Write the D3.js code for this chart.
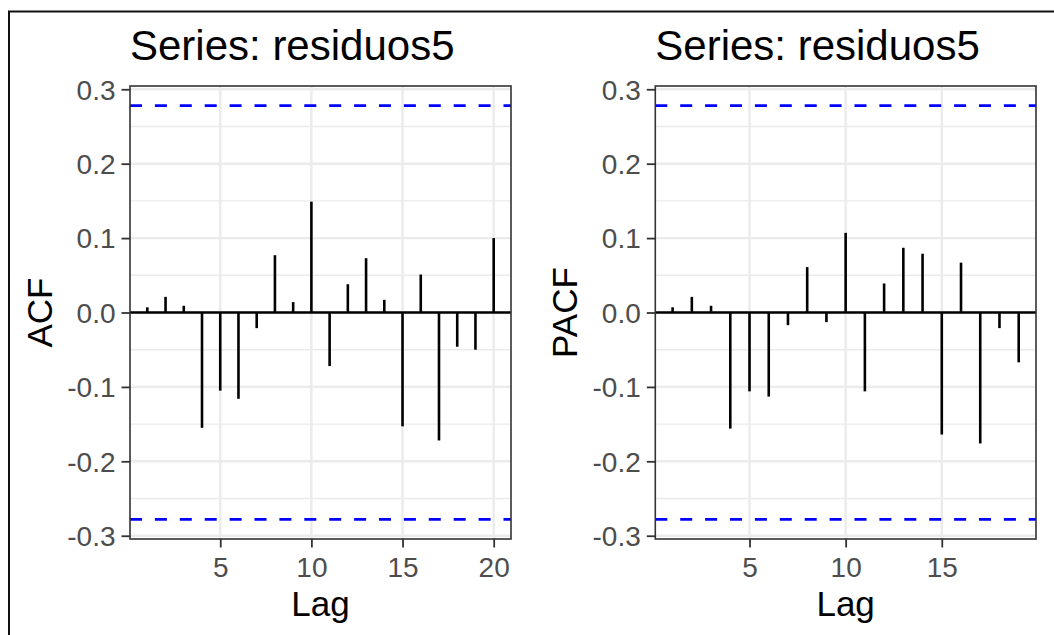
<!DOCTYPE html>
<html>
<head>
<meta charset="utf-8">
<script src="https://cdn.jsdelivr.net/npm/d3@7"></script>
<style>
  html, body { margin: 0; padding: 0; background: #ffffff; }
  svg { display: block; font-family: "Liberation Sans", Arial, Helvetica, sans-serif; }
</style>
</head>
<body>
<svg id="chart" width="1054" height="635"></svg>
<script>
// ---- Data ----
const titleText = "Series: residuos5";
const xLabel = "Lag";
const acfLabel = "ACF";
const pacfLabel = "PACF";

const acfLags = [1, 2, 3, 4, 5, 6, 7, 8, 9, 10, 11, 12, 13, 14, 15, 16, 17, 18, 19, 20];
const acfValues = [0.007, 0.021, 0.009, -0.155, -0.105, -0.116, -0.021, 0.077, 0.014, 0.149,
                   -0.072, 0.038, 0.073, 0.017, -0.153, 0.051, -0.172, -0.046, -0.050, 0.100];

const pacfLags = [1, 2, 3, 4, 5, 6, 7, 8, 9, 10, 11, 12, 13, 14, 15, 16, 17, 18, 19];
const pacfValues = [0.007, 0.021, 0.009, -0.156, -0.106, -0.113, -0.017, 0.061, -0.013, 0.107,
                    -0.106, 0.039, 0.087, 0.079, -0.164, 0.067, -0.176, -0.021, -0.067];

const ciLevel = 0.278;   // approx. 1.96/sqrt(n)

const yTicks = [-0.3, -0.2, -0.1, 0.0, 0.1, 0.2, 0.3];
const yTickLabels = ["-0.3", "-0.2", "-0.1", "0.0", "0.1", "0.2", "0.3"];
const yMinorTicks = [-0.25, -0.15, -0.05, 0.05, 0.15, 0.25];
const acfXTicks = [5, 10, 15, 20];
const pacfXTicks = [5, 10, 15];

// ---- Layout ----
const svg = d3.select("#chart");
svg.append("rect").attr("x", 0).attr("y", 0).attr("width", 1054).attr("height", 635).attr("fill", "#fff");

// outer frame (only left & top visible in the crop)
svg.append("line").attr("x1", 9).attr("x2", 9).attr("y1", 11).attr("y2", 635)
  .attr("stroke", "#111").attr("stroke-width", 2);
svg.append("line").attr("x1", 8).attr("x2", 1054).attr("y1", 11.5).attr("y2", 11.5)
  .attr("stroke", "#111").attr("stroke-width", 1.8);

const panelTop = 86, panelBottom = 539;

function drawPanel(opts) {
  const { left, right, lags, values, xTicks, ylab } = opts;
  const lagExt = d3.extent(lags);
  const pad = (lagExt[1] - lagExt[0]) * 0.05;
  const x = d3.scaleLinear().domain([lagExt[0] - pad, lagExt[1] + pad]).range([left, right]);
  const y = d3.scaleLinear().domain([-0.3044, 0.3044]).range([panelBottom, panelTop]);

  const g = svg.append("g");

  g.append("rect").attr("x", left).attr("y", panelTop)
    .attr("width", right - left).attr("height", panelBottom - panelTop).attr("fill", "#fff");

  // minor gridlines
  g.selectAll(".ymin").data(yMinorTicks).enter().append("line")
    .attr("x1", left).attr("x2", right)
    .attr("y1", d => y(d)).attr("y2", d => y(d))
    .attr("stroke", "#ebebeb").attr("stroke-width", 1.4);
  // major gridlines
  g.selectAll(".ymaj").data(yTicks).enter().append("line")
    .attr("x1", left).attr("x2", right)
    .attr("y1", d => y(d)).attr("y2", d => y(d))
    .attr("stroke", "#ebebeb").attr("stroke-width", 2.4);
  g.selectAll(".xmaj").data(xTicks).enter().append("line")
    .attr("x1", d => x(d)).attr("x2", d => x(d))
    .attr("y1", panelTop).attr("y2", panelBottom)
    .attr("stroke", "#ebebeb").attr("stroke-width", 2.4);

  // zero line
  g.append("line").attr("x1", left).attr("x2", right)
    .attr("y1", y(0)).attr("y2", y(0))
    .attr("stroke", "#000").attr("stroke-width", 2.6);

  // spikes
  g.selectAll(".spike").data(lags.map((l, i) => ({ lag: l, v: values[i] }))).enter().append("line")
    .attr("x1", d => x(d.lag)).attr("x2", d => x(d.lag))
    .attr("y1", y(0)).attr("y2", d => y(d.v))
    .attr("stroke", "#000").attr("stroke-width", 2.6);

  // confidence bands
  [ciLevel, -ciLevel].forEach(c => {
    g.append("line").attr("x1", left).attr("x2", right)
      .attr("y1", y(c)).attr("y2", y(c))
      .attr("stroke", "#0000ff").attr("stroke-width", 2.6)
      .attr("stroke-dasharray", "12,12.9");
  });

  // panel border
  g.append("rect").attr("x", left).attr("y", panelTop)
    .attr("width", right - left).attr("height", panelBottom - panelTop)
    .attr("fill", "none").attr("stroke", "#333333").attr("stroke-width", 1.6);

  // y axis
  const yAxis = d3.axisLeft(y).tickValues(yTicks).tickSize(8.5).tickPadding(6)
    .tickFormat((d, i) => yTickLabels[i]);
  const ya = g.append("g").attr("transform", `translate(${left},0)`).call(yAxis);
  ya.select(".domain").remove();
  ya.selectAll(".tick line").attr("stroke", "#333333").attr("stroke-width", 1.8);
  ya.selectAll(".tick text").attr("fill", "#4d4d4d")
    .style("font-size", "28px").style("font-family", "'Liberation Sans', Arial, sans-serif")
    .attr("dy", "0.35em");

  // x axis
  const xAxis = d3.axisBottom(x).tickValues(xTicks).tickSize(8.5).tickPadding(4)
    .tickFormat(d3.format("d"));
  const xa = g.append("g").attr("transform", `translate(0,${panelBottom})`).call(xAxis);
  xa.select(".domain").remove();
  xa.selectAll(".tick line").attr("stroke", "#333333").attr("stroke-width", 1.8);
  xa.selectAll(".tick text").attr("fill", "#4d4d4d")
    .style("font-size", "28px").style("font-family", "'Liberation Sans', Arial, sans-serif")
    .attr("dy", null).attr("y", 38);

  // titles
  g.append("text").attr("x", left).attr("y", 60)
    .attr("fill", "#000").style("font-size", "42px").text(titleText);
  g.append("text").attr("x", (left + right) / 2).attr("y", 616)
    .attr("text-anchor", "middle").attr("fill", "#000").style("font-size", "35px").text(xLabel);
  g.append("text")
    .attr("transform", `translate(${left - 78},${(panelTop + panelBottom) / 2}) rotate(-90)`)
    .attr("text-anchor", "middle").attr("fill", "#000").style("font-size", "35px").text(ylab);
}

drawPanel({ left: 130, right: 511, lags: acfLags, values: acfValues, xTicks: acfXTicks, ylab: acfLabel });
drawPanel({ left: 655.3, right: 1036, lags: pacfLags, values: pacfValues, xTicks: pacfXTicks, ylab: pacfLabel });
</script>
</body>
</html>
